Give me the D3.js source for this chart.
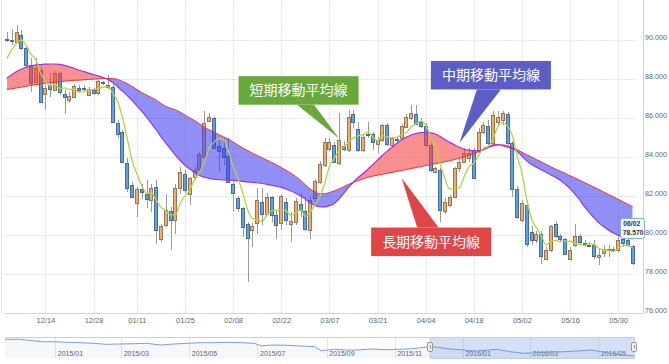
<!DOCTYPE html>
<html lang="ja">
<head>
<meta charset="utf-8">
<title>移動平均線</title>
<script src="https://cdn.jsdelivr.net/npm/d3@7/dist/d3.min.js"></script>
<style>
  html, body { margin: 0; padding: 0; background: #fff; }
  #chart { display: block; }
  .axis text { font-family: "Liberation Sans", Arial, sans-serif; fill: #666; }
  .callout text { font-family: "Noto Sans CJK JP", "Noto Sans CJK SC", sans-serif; }
</style>
</head>
<body>
<svg id="chart" width="669" height="364"></svg>
<script>
'use strict';

// daily candles, weekdays only (01/01 closed)
var dates = [
  '2015-12-02','2015-12-03','2015-12-04','2015-12-07','2015-12-08','2015-12-09','2015-12-10','2015-12-11',
  '2015-12-14','2015-12-15','2015-12-16','2015-12-17','2015-12-18','2015-12-21','2015-12-22','2015-12-23',
  '2015-12-24','2015-12-25','2015-12-28','2015-12-29','2015-12-30','2015-12-31',
  '2016-01-04','2016-01-05','2016-01-06','2016-01-07','2016-01-08','2016-01-11','2016-01-12','2016-01-13',
  '2016-01-14','2016-01-15','2016-01-18','2016-01-19','2016-01-20','2016-01-21','2016-01-22','2016-01-25',
  '2016-01-26','2016-01-27','2016-01-28','2016-01-29',
  '2016-02-01','2016-02-02','2016-02-03','2016-02-04','2016-02-05','2016-02-08','2016-02-09','2016-02-10',
  '2016-02-11','2016-02-12','2016-02-15','2016-02-16','2016-02-17','2016-02-18','2016-02-19','2016-02-22',
  '2016-02-23','2016-02-24','2016-02-25','2016-02-26','2016-02-29',
  '2016-03-01','2016-03-02','2016-03-03','2016-03-04','2016-03-07','2016-03-08','2016-03-09','2016-03-10',
  '2016-03-11','2016-03-14','2016-03-15','2016-03-16','2016-03-17','2016-03-18','2016-03-21','2016-03-22',
  '2016-03-23','2016-03-24','2016-03-25','2016-03-28','2016-03-29','2016-03-30','2016-03-31',
  '2016-04-01','2016-04-04','2016-04-05','2016-04-06','2016-04-07','2016-04-08','2016-04-11','2016-04-12',
  '2016-04-13','2016-04-14','2016-04-15','2016-04-18','2016-04-19','2016-04-20','2016-04-21','2016-04-22',
  '2016-04-25','2016-04-26','2016-04-27','2016-04-28','2016-04-29',
  '2016-05-02','2016-05-03','2016-05-04','2016-05-05','2016-05-06','2016-05-09','2016-05-10','2016-05-11',
  '2016-05-12','2016-05-13','2016-05-16','2016-05-17','2016-05-18','2016-05-19','2016-05-20','2016-05-23',
  '2016-05-24','2016-05-25','2016-05-26','2016-05-27','2016-05-30','2016-05-31',
  '2016-06-01','2016-06-02'
];

var open = [
  90.03,89.98,89.91,90.26,89.60,88.70,87.86,88.46,87.22,87.70,
  87.44,88.29,87.23,86.92,87.08,87.55,87.52,87.20,87.42,87.26,
  87.84,87.71,87.60,85.73,85.30,83.68,82.56,81.64,82.35,82.12,
  81.80,82.48,79.78,80.50,81.21,80.75,82.43,83.11,82.12,82.97,
  83.40,84.02,85.85,85.98,84.58,84.44,84.07,82.60,81.90,81.40,
  80.55,80.24,80.60,81.69,81.09,81.93,81.03,80.60,81.70,80.58,
  80.68,81.60,81.25,80.28,81.90,82.74,83.60,84.41,84.62,83.68,
  84.58,84.36,86.19,85.44,84.36,85.20,85.16,84.65,84.87,85.64,
  84.62,84.93,84.96,85.56,86.02,86.19,85.80,85.61,84.62,83.21,
  83.33,81.23,81.54,81.97,83.42,83.76,83.93,84.36,84.31,85.30,
  85.60,84.70,85.81,85.90,86.20,84.70,82.37,80.75,81.52,80.15,
  79.72,80.07,78.79,79.21,80.58,79.93,79.81,78.79,79.47,79.93,
  79.57,79.51,79.50,78.87,79.07,79.21,79.27,79.21,79.80,79.76,
  79.42
];
var high = [
  90.43,90.55,90.77,90.51,89.66,89.06,89.06,88.63,87.70,88.30,
  88.40,88.35,87.44,87.35,87.73,87.70,87.70,87.60,87.55,87.95,
  87.92,88.20,87.75,85.90,85.38,83.93,82.74,82.48,82.60,82.84,
  82.60,82.80,80.58,82.10,81.43,82.63,83.49,83.32,83.00,83.50,
  84.27,86.36,86.24,86.07,84.87,84.96,84.96,82.74,82.00,81.45,
  80.68,80.60,82.40,82.43,82.14,82.00,81.28,82.10,81.90,81.20,
  81.88,82.14,81.97,81.97,82.87,83.80,84.96,84.96,84.79,86.24,
  84.80,86.41,86.41,85.80,85.13,85.80,85.30,85.04,85.67,85.73,
  85.04,85.04,85.67,86.20,86.67,86.67,86.00,85.73,84.70,83.50,
  83.42,81.88,82.05,83.50,84.02,84.45,84.45,84.45,85.47,85.81,
  85.90,86.36,86.36,86.36,86.30,84.80,82.50,81.80,81.77,80.45,
  80.20,80.20,79.40,80.50,80.72,80.07,79.87,79.37,80.57,80.07,
  79.72,79.64,79.72,79.30,79.47,79.47,79.40,79.90,79.95,79.87,
  79.47
];
var low = [
  89.91,89.75,89.83,89.49,88.63,87.35,87.78,86.80,86.40,87.10,
  87.40,87.20,86.22,86.75,87.04,87.35,87.40,87.15,87.20,87.20,
  87.70,87.50,85.73,84.95,83.68,82.22,81.95,80.90,81.86,81.40,
  81.18,79.56,79.64,80.40,79.21,80.07,82.12,82.15,81.52,82.80,
  83.25,83.97,85.80,84.40,83.25,83.60,82.70,81.20,81.20,79.90,
  77.60,79.40,80.07,80.50,81.03,80.67,79.80,80.26,80.50,79.64,
  80.50,80.94,80.20,79.80,81.70,82.60,83.50,84.30,83.68,83.60,
  84.30,84.27,85.47,84.27,84.27,84.96,84.36,84.19,84.79,84.58,
  84.53,84.79,84.87,85.47,85.90,85.64,85.50,84.53,83.25,83.16,
  80.68,81.10,81.45,81.88,83.25,83.67,83.75,82.87,84.19,85.20,
  84.60,84.60,85.64,85.64,84.60,81.97,80.80,80.65,79.37,79.50,
  79.60,78.53,78.70,79.13,79.87,79.70,78.97,78.70,79.37,79.47,
  79.40,79.40,78.77,78.44,78.87,78.87,79.15,79.13,79.40,79.37,
  78.44
];
var close = [
  89.98,89.95,90.39,89.57,88.72,87.78,88.55,86.84,87.55,87.47,
  88.29,87.35,87.06,87.11,87.62,87.46,87.50,87.51,87.26,87.88,
  87.80,87.58,85.80,85.20,83.76,82.43,81.97,82.35,82.20,81.86,
  82.40,80.25,80.46,81.30,80.75,82.43,83.23,82.29,82.94,83.35,
  84.17,85.73,86.07,84.44,84.31,84.02,82.74,82.14,81.40,80.43,
  79.83,80.44,81.78,81.09,81.93,81.03,80.52,82.00,80.76,80.74,
  81.75,81.26,80.30,81.80,82.75,83.62,84.75,84.75,83.76,84.87,
  84.41,86.07,85.81,84.36,85.04,85.15,84.79,84.87,85.64,84.65,
  84.96,84.90,85.61,86.07,86.24,85.69,85.60,84.62,83.33,83.45,
  81.28,81.71,81.97,83.42,83.76,84.19,84.19,82.91,85.30,85.64,
  84.70,86.15,86.07,86.24,84.70,82.37,80.90,81.62,79.55,79.72,
  80.07,78.90,79.25,80.44,79.93,79.77,79.04,79.21,79.93,79.64,
  79.55,79.49,78.90,78.99,79.30,79.30,79.27,79.76,79.60,79.47,
  78.57
];

// moving averages
var shortMA = [
  89.06,89.49,89.83,90.00,89.72,89.28,89.00,88.29,87.89,87.64,
  87.74,87.50,87.54,87.46,87.49,87.32,87.35,87.44,87.47,87.52,
  87.59,87.61,87.26,86.85,86.03,84.95,83.83,83.14,82.54,82.16,
  82.16,81.81,81.43,81.25,81.03,81.04,81.63,82.00,82.33,82.85,
  83.20,83.70,84.45,84.75,84.94,84.91,84.32,83.53,82.92,82.15,
  81.31,80.85,80.78,80.71,81.01,81.25,81.27,81.31,81.25,81.01,
  81.15,81.30,80.96,81.17,81.57,81.95,82.64,83.53,83.93,84.35,
  84.51,84.77,84.98,85.10,85.14,85.29,85.03,84.84,85.10,85.02,
  84.98,85.00,85.15,85.24,85.56,85.70,85.84,85.64,85.10,84.54,
  83.66,82.88,82.35,82.37,82.43,83.01,83.51,83.69,84.07,84.45,
  84.55,84.94,85.57,85.76,85.57,85.11,84.06,83.17,81.83,80.83,
  80.37,79.97,79.50,79.68,79.72,79.66,79.69,79.68,79.58,79.52,
  79.47,79.56,79.50,79.31,79.25,79.20,79.15,79.32,79.45,79.48,
  79.33
];
var mediumMA = [
  88.05,88.22,88.38,88.50,88.60,88.67,88.72,88.74,88.76,88.77,
  88.77,88.75,88.70,88.62,88.54,88.45,88.38,88.30,88.23,88.16,
  88.08,87.98,87.82,87.60,87.38,87.15,86.90,86.62,86.35,86.05,
  85.72,85.40,85.05,84.72,84.40,84.10,83.82,83.58,83.38,83.20,
  83.05,82.96,82.90,82.86,82.84,82.82,82.81,82.80,82.78,82.75,
  82.72,82.70,82.68,82.64,82.60,82.55,82.50,82.44,82.36,82.26,
  82.14,82.00,81.84,81.66,81.52,81.45,81.44,81.50,81.62,81.85,
  82.15,82.45,82.72,82.95,83.15,83.38,83.60,83.85,84.08,84.30,
  84.50,84.70,84.88,85.02,85.13,85.20,85.25,85.26,85.24,85.18,
  85.05,84.90,84.75,84.62,84.50,84.40,84.35,84.32,84.32,84.38,
  84.50,84.62,84.64,84.58,84.50,84.42,84.28,84.05,83.80,83.62,
  83.47,83.35,83.22,83.08,82.95,82.80,82.60,82.38,82.10,81.80,
  81.45,81.15,80.88,80.62,80.42,80.25,80.10,79.98,79.90,79.84,
  79.80
];
var longMA = [
  87.46,87.50,87.54,87.58,87.63,87.67,87.71,87.74,87.78,87.81,
  87.84,87.86,87.89,87.91,87.93,87.94,87.96,87.98,87.99,88.01,
  88.03,88.03,88.02,87.98,87.88,87.76,87.62,87.46,87.31,87.18,
  87.05,86.92,86.75,86.60,86.50,86.42,86.30,86.15,86.00,85.87,
  85.70,85.53,85.40,85.28,85.16,85.03,84.92,84.77,84.61,84.46,
  84.33,84.20,84.08,83.96,83.84,83.72,83.60,83.46,83.32,83.17,
  83.00,82.80,82.58,82.36,82.22,82.12,82.12,82.18,82.26,82.36,
  82.48,82.60,82.71,82.79,82.88,82.96,83.02,83.07,83.12,83.16,
  83.21,83.26,83.31,83.36,83.41,83.46,83.51,83.56,83.61,83.66,
  83.71,83.76,83.81,83.87,83.93,84.01,84.09,84.17,84.27,84.38,
  84.48,84.56,84.61,84.62,84.58,84.50,84.38,84.24,84.12,84.00,
  83.87,83.75,83.62,83.50,83.38,83.27,83.16,83.04,82.93,82.81,
  82.69,82.57,82.45,82.33,82.20,82.08,81.96,81.83,81.70,81.58,
  81.45
];

var xTickDates = ['2015-12-14','2015-12-28','2016-01-11','2016-01-25','2016-02-08','2016-02-22',
  '2016-03-07','2016-03-21','2016-04-04','2016-04-18','2016-05-02','2016-05-16','2016-05-30'];
var yTicks = [76, 78, 80, 82, 84, 86, 88, 90];

// navigator (whole history)
var navDates = ['2014-11-17','2014-11-30','2014-12-12','2014-12-21','2014-12-30','2015-01-11','2015-01-23',
  '2015-02-04','2015-02-16','2015-02-28','2015-03-12','2015-03-24','2015-04-05','2015-04-17','2015-04-29',
  '2015-05-11','2015-05-23','2015-06-04','2015-06-16','2015-06-28','2015-07-04','2015-07-16','2015-07-28',
  '2015-08-09','2015-08-21','2015-08-27','2015-09-02','2015-09-08','2015-09-17','2015-09-29','2015-10-11',
  '2015-10-23','2015-11-04','2015-11-16','2015-11-28','2015-12-03','2015-12-09','2015-12-20','2016-01-01',
  '2016-01-13','2016-01-25','2016-01-31','2016-02-12','2016-02-24','2016-03-07','2016-03-19','2016-03-31',
  '2016-04-12','2016-04-24','2016-04-30','2016-05-12','2016-05-24','2016-06-02'];
var navValues = [99.07,99.07,97.35,96.13,96.13,95.39,94.90,94.17,92.94,93.31,93.68,94.17,92.08,93.31,94.17,
  94.90,94.90,95.39,94.90,94.17,91.23,92.08,91.72,90.86,90.00,85.10,85.96,86.81,85.96,85.96,87.18,86.32,
  86.81,87.55,89.26,90.00,89.26,87.18,85.96,84.73,85.96,86.81,83.87,81.91,82.65,83.50,83.87,84.73,85.96,
  84.73,81.91,79.83,78.60];

var calloutText = ['短期移動平均線', '中期移動平均線', '長期移動平均線'];
var calloutDate = ['2016-03-09', '2016-04-13', '2016-03-28'];
var calloutValue = [84.95, 84.72, 82.92];

var parse = d3.timeParse('%Y-%m-%d');
var fmtDay = d3.timeFormat('%m/%d');
var fmtMonth = d3.timeFormat('%Y/%m');

var svg = d3.select('#chart');
var plotL = 4.5, plotR = 635.1, plotB = 313;
var idx = d3.range(dates.length);

var x = d3.scalePoint().domain(idx).range([plotL, plotR]).padding(0.5);
var y = d3.scaleLinear().domain([76, 92]).range([plotB, 1]);

function crisp(v) { return Math.round(v) + 0.5; }

var defs = svg.append('defs');
defs.append('clipPath').attr('id', 'plot-clip')
  .append('rect').attr('x', plotL).attr('y', 0).attr('width', plotR - plotL).attr('height', plotB);

var longAbove = d3.area().curve(d3.curveMonotoneX)
  .x(function (i) { return x(i); }).y0(0).y1(function (i) { return y(longMA[i]); });
var longBelow = d3.area().curve(d3.curveMonotoneX)
  .x(function (i) { return x(i); }).y0(plotB).y1(function (i) { return y(longMA[i]); });
defs.append('clipPath').attr('id', 'clip-above').append('path').attr('d', longAbove(idx));
defs.append('clipPath').attr('id', 'clip-below').append('path').attr('d', longBelow(idx));

// frame + grid
svg.append('line').attr('x1', 1.5).attr('x2', 1.5).attr('y1', 0).attr('y2', plotB)
  .attr('stroke', '#e6e6e6');

var gridY = svg.append('g').attr('transform', 'translate(' + plotR + ',0)')
  .call(d3.axisLeft(y).tickValues(yTicks).tickSize(plotR - plotL).tickFormat(''));
gridY.select('.domain').remove();
gridY.selectAll('line').attr('stroke', '#e2e2e2').attr('stroke-dasharray', '2,1');

var tickIdx = xTickDates.map(function (d) { return dates.indexOf(d); });
svg.append('g').selectAll('line').data(tickIdx).enter().append('line')
  .attr('x1', function (i) { return crisp(x(i)); })
  .attr('x2', function (i) { return crisp(x(i)); })
  .attr('y1', 0).attr('y2', plotB)
  .attr('stroke', '#e2e2e2').attr('stroke-dasharray', '2,1');

var plot = svg.append('g').attr('clip-path', 'url(#plot-clip)');

// candles
var candleW = 3;
var candles = plot.append('g').selectAll('g').data(idx).enter().append('g');
candles.append('line')
  .attr('x1', function (i) { return crisp(x(i)); })
  .attr('x2', function (i) { return crisp(x(i)); })
  .attr('y1', function (i) { return Math.round(y(high[i])); })
  .attr('y2', function (i) { return Math.round(y(low[i])); })
  .attr('stroke', '#9a9a9a');
candles.append('rect')
  .attr('x', function (i) { return Math.round(x(i)) - 1.5; })
  .attr('y', function (i) { return crisp(y(Math.max(open[i], close[i]))); })
  .attr('width', candleW)
  .attr('height', function (i) {
    return Math.max(1, Math.round(y(Math.min(open[i], close[i]))) - Math.round(y(Math.max(open[i], close[i]))));
  })
  .attr('fill', function (i) { return close[i] >= open[i] ? '#f4ab64' : '#5ca2e6'; })
  .attr('stroke', function (i) { return close[i] >= open[i] ? '#8f7760' : '#486c93'; });

// band between medium and long
var band = d3.area().curve(d3.curveMonotoneX)
  .x(function (i) { return x(i); })
  .y0(function (i) { return y(longMA[i]); })
  .y1(function (i) { return y(mediumMA[i]); });
plot.append('path').attr('d', band(idx)).attr('clip-path', 'url(#clip-above)')
  .attr('fill', 'rgb(245,62,62)').attr('fill-opacity', 0.58);
plot.append('path').attr('d', band(idx)).attr('clip-path', 'url(#clip-below)')
  .attr('fill', 'rgb(62,62,240)').attr('fill-opacity', 0.58);

function maLine(arr) {
  return d3.line().curve(d3.curveMonotoneX)
    .x(function (i) { return x(i); })
    .y(function (i) { return y(arr[i]); })(idx);
}
plot.append('path').attr('d', maLine(longMA)).attr('fill', 'none')
  .attr('stroke', '#ee3434').attr('stroke-width', 1);
plot.append('path').attr('d', maLine(mediumMA)).attr('fill', 'none')
  .attr('stroke', '#9a32ea').attr('stroke-width', 1.2);
plot.append('path').attr('d', maLine(shortMA)).attr('fill', 'none')
  .attr('stroke', '#b4d53e').attr('stroke-width', 1.3);

// axes
svg.append('line').attr('x1', 643.5).attr('x2', 643.5).attr('y1', 0).attr('y2', plotB + 0.5)
  .attr('stroke', '#c6d3e6');
svg.append('line').attr('x1', plotL).attr('x2', 643.5).attr('y1', plotB + 0.5).attr('y2', plotB + 0.5)
  .attr('stroke', '#ccd6eb');

var yAxis = svg.append('g').attr('class', 'axis').attr('transform', 'translate(645,0)')
  .call(d3.axisRight(y).tickValues(yTicks).tickSize(0).tickPadding(0).tickFormat(d3.format('.3f')));
yAxis.select('.domain').remove();
yAxis.selectAll('text').attr('y', -3.2).attr('font-size', 7.2);

var xAxis = svg.append('g').attr('class', 'axis').attr('transform', 'translate(0,' + plotB + ')')
  .call(d3.axisBottom(x).tickValues(tickIdx).tickSize(0)
    .tickFormat(function (i) { return fmtDay(parse(dates[i])); }));
xAxis.select('.domain').remove();
xAxis.selectAll('text').attr('dy', 0).attr('y', 10.4).attr('font-size', 7.5);

// callouts
var calloutStyle = [
  { fill: '#69a83b', dx: -100.5, dy: -62.3, up: false, base: [-42, -25] },
  { fill: '#5d5dc6', dx: -28.5, dy: -82, up: false, base: [17.5, 41.5] },
  { fill: '#e14646', dx: -30.5, dy: 49.5, up: true, base: [15.5, 37] }
];
var boxW = 120, boxH = 28.5;
calloutText.forEach(function (t, k) {
  var s = calloutStyle[k];
  var tx = x(dates.indexOf(calloutDate[k]));
  var ty = y(calloutValue[k]);
  var bx = tx + s.dx, by = ty + s.dy;
  var baseY = s.up ? by : by + boxH;
  var g = svg.append('g').attr('class', 'callout');
  g.append('rect').attr('x', bx).attr('y', by).attr('width', boxW).attr('height', boxH).attr('fill', s.fill);
  g.append('path')
    .attr('d', 'M' + (tx + s.base[0]) + ',' + baseY + 'L' + tx + ',' + ty + 'L' + (tx + s.base[1]) + ',' + baseY + 'Z')
    .attr('fill', s.fill);
  g.append('text').attr('x', bx + boxW / 2).attr('y', by + boxH / 2).attr('dy', '0.36em')
    .attr('text-anchor', 'middle').attr('font-size', 14).attr('fill', '#fff').text(t);
});

// tooltip on last candle
var last = dates.length - 1;
var tipX = x(last) - 12.5, tipY = y(close[last]) - 45;
var tip = svg.append('g');
tip.append('rect').attr('x', crisp(tipX)).attr('y', crisp(tipY)).attr('width', 24).attr('height', 20)
  .attr('rx', 2).attr('fill', 'rgba(255,255,255,0.92)').attr('stroke', '#7eaee2');
tip.append('text').attr('x', tipX + 3).attr('y', tipY + 8.3)
  .attr('font-family', '"Liberation Sans", Arial, sans-serif').attr('font-size', 6.8).attr('font-weight', 'bold')
  .attr('fill', '#333').text(fmtDay(parse(dates[last])));
tip.append('text').attr('x', tipX + 2.5).attr('y', tipY + 16.8)
  .attr('font-family', '"Liberation Sans", Arial, sans-serif').attr('font-size', 6.8).attr('font-weight', 'bold')
  .attr('fill', '#333').text(d3.format('.3f')(close[last]));

// navigator
var navTop = 337, navBot = 358;
var navX = d3.scaleTime().domain([parse(navDates[0]), parse(navDates[navDates.length - 1])]).range([5, 634]);
var navY = d3.scaleLinear().domain([76, 104]).range([358.1, 335.3]);
var nav = svg.append('g');

var navTicks = navX.ticks(d3.timeMonth.every(2));
nav.selectAll('line.grid').data(navTicks).enter().append('line')
  .attr('x1', function (d) { return crisp(navX(d)); })
  .attr('x2', function (d) { return crisp(navX(d)); })
  .attr('y1', navTop).attr('y2', navBot)
  .attr('stroke', '#e6e6e6');
nav.selectAll('text').data(navTicks).enter().append('text')
  .attr('x', function (d) { return navX(d) + 2.5; })
  .attr('y', 355.6)
  .attr('font-family', '"Liberation Sans", Arial, sans-serif').attr('font-size', 7)
  .attr('fill', '#666').text(function (d) { return fmtMonth(d); });

var navPts = d3.range(navDates.length);
nav.append('path')
  .attr('d', d3.area().x(function (i) { return navX(parse(navDates[i])); })
    .y0(navBot).y1(function (i) { return navY(navValues[i]); })(navPts))
  .attr('fill', '#335cad').attr('fill-opacity', 0.05);
nav.append('path')
  .attr('d', d3.line().x(function (i) { return navX(parse(navDates[i])); })
    .y(function (i) { return navY(navValues[i]); })(navPts))
  .attr('fill', 'none').attr('stroke', '#7c9fd2').attr('stroke-width', 1);

var selA = navX(parse(dates[0])), selB = navX(parse(dates[last]));
nav.append('rect').attr('x', selA).attr('y', navTop).attr('width', selB - selA).attr('height', navBot - navTop)
  .attr('fill', 'rgba(102,145,215,0.28)');
nav.append('path')
  .attr('d', 'M5,' + (navTop + 0.5) + 'H' + crisp(selA) + 'V' + (navBot + 0.5) + 'H' + crisp(selB) +
    'V' + (navTop + 0.5) + 'H634 M' + crisp(selA) + ',' + (navTop + 0.5) + 'H' + crisp(selB))
  .attr('fill', 'none').attr('stroke', '#c2cfe0');
[selA, selB].forEach(function (hx) {
  nav.append('rect').attr('x', Math.round(hx) - 2.5).attr('y', 342.5).attr('width', 5).attr('height', 9)
    .attr('rx', 1.5).attr('fill', '#f2f2f2').attr('stroke', '#999');
  nav.append('line').attr('x1', Math.round(hx) + 0.5).attr('x2', Math.round(hx) + 0.5)
    .attr('y1', 345).attr('y2', 349).attr('stroke', '#999');
});
</script>
</body>
</html>
